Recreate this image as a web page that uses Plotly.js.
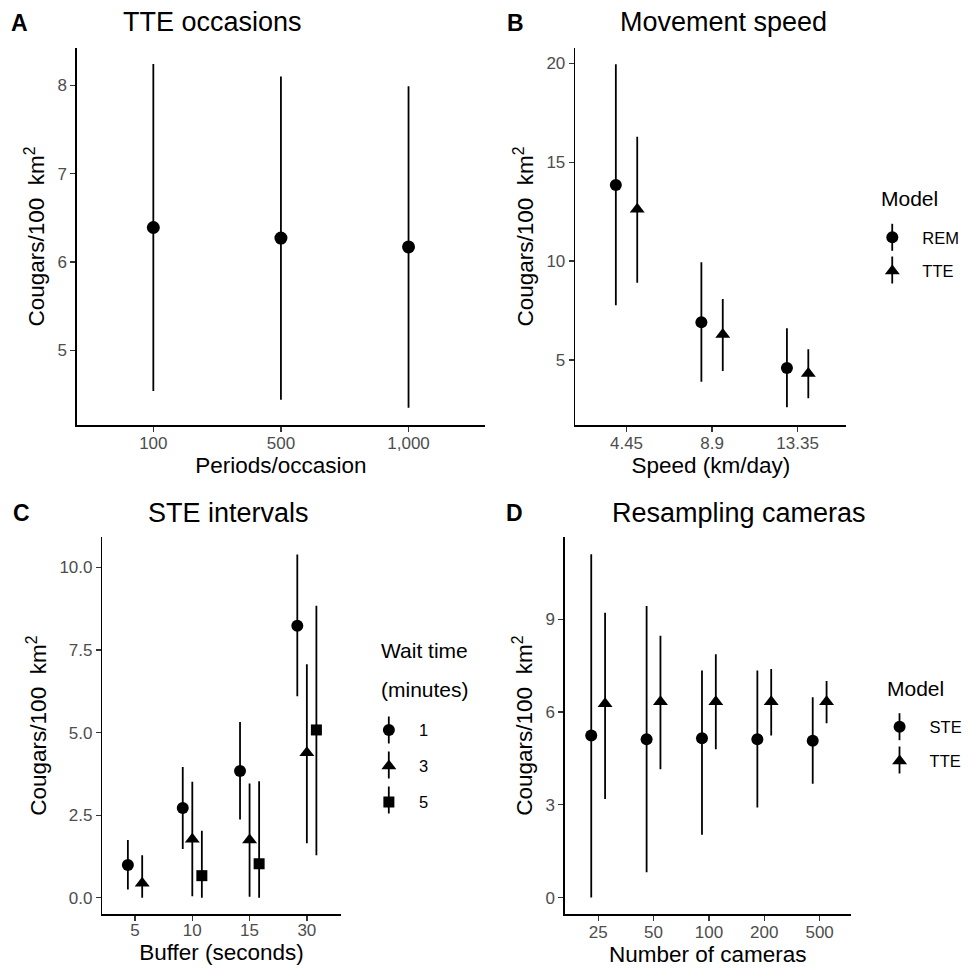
<!DOCTYPE html>
<html>
<head>
<meta charset="utf-8">
<script src="https://cdn.plot.ly/plotly-3.0.1.min.js"></script>
<style>html,body{margin:0;padding:0;background:#fff;}#chart{width:968px;height:972px;}</style>
</head>
<body>
<div id="chart"></div>
<script>
// ---------- DATA ----------
// Panel A: TTE occasions
const catsA = ['100', '500', '1,000'];
const estA = [6.39, 6.27, 6.17];
const loA  = [4.54, 4.44, 4.35];
const hiA  = [8.24, 8.10, 7.99];

// Panel B: Movement speed
const catsB = ['4.45', '8.9', '13.35'];
const remEstB = [13.85, 6.91, 4.60];
const remLoB  = [7.77, 3.90, 2.62];
const remHiB  = [19.95, 9.94, 6.61];
const tteEstB = [12.62, 6.29, 4.32];
const tteLoB  = [8.91, 4.45, 3.07];
const tteHiB  = [16.29, 8.09, 5.55];

// Panel C: STE intervals (buffer seconds x wait minutes)
const catsC = ['5', '10', '15', '30'];
const w1CatsC = ['5', '10', '15', '30'];
const w1EstC = [0.99, 2.72, 3.84, 8.23];
const w1LoC  = [0.25, 1.48, 2.37, 6.10];
const w1HiC  = [1.75, 3.96, 5.32, 10.39];
const w3CatsC = ['5', '10', '15', '30'];
const w3EstC = [0.44, 1.77, 1.75, 4.39];
const w3LoC  = [0.00, 0.05, 0.03, 1.65];
const w3HiC  = [1.29, 3.51, 3.46, 7.07];
const w5CatsC = ['10', '15', '30'];
const w5EstC = [0.67, 1.03, 5.08];
const w5LoC  = [0.00, 0.00, 1.29];
const w5HiC  = [2.03, 3.53, 8.84];

// Panel D: Resampling cameras
const catsD = ['25', '50', '100', '200', '500'];
const steEstD = [5.24, 5.12, 5.15, 5.12, 5.07];
const steLoD  = [0.00, 0.82, 2.03, 2.91, 3.68];
const steHiD  = [11.10, 9.43, 7.34, 7.34, 6.48];
const tteEstD = [6.27, 6.33, 6.33, 6.33, 6.33];
const tteLoD  = [3.19, 4.15, 4.80, 5.24, 5.64];
const tteHiD  = [9.21, 8.47, 7.87, 7.39, 7.00];

// ---------- HELPERS ----------
const FONT = 'Liberation Sans, Arial, Helvetica, sans-serif';
const W = 968, H = 972;
const fx = p => p / W;
const fy = p => (H - p) / H;

// ggplot-like position_dodge (width 0.5), computed per category
function dodge(series, cats, width) {
  return series.map(s => s.cats.map(c => {
    const present = series.filter(t => t.cats.indexOf(c) >= 0);
    const n = present.length, k = present.indexOf(s);
    return cats.indexOf(c) - width / 2 + width / (2 * n) + k * width / n;
  }));
}

function errTrace(x, est, lo, hi, opts) {
  return Object.assign({
    type: 'scatter', mode: 'markers', x: x, y: est,
    error_y: {
      type: 'data', symmetric: false,
      array: hi.map((h, i) => h - est[i]),
      arrayminus: lo.map((l, i) => est[i] - l),
      width: 0, thickness: 1.8, color: 'black'
    },
    cliponaxis: false,
    hoverinfo: 'x+y'
  }, opts);
}

const SYM = {
  circle: {symbol: 'circle', size: 12},
  triangle: {symbol: 'triangle-up', size: 13},
  square: {symbol: 'square', size: 11}
};

// ---------- TRACES ----------
const traces = [];
traces.push(errTrace(catsA.map((c, i) => i), estA, loA, hiA, {
  xaxis: 'x', yaxis: 'y', showlegend: false, name: 'TTE',
  marker: {symbol: 'circle', size: 13, color: 'black'}
}));

const seriesB = [
  {name: 'REM', cats: catsB, est: remEstB, lo: remLoB, hi: remHiB, shape: 'circle'},
  {name: 'TTE', cats: catsB, est: tteEstB, lo: tteLoB, hi: tteHiB, shape: 'triangle'}
];
const xB = dodge(seriesB, catsB, 0.5);
seriesB.forEach((s, j) => traces.push(errTrace(xB[j], s.est, s.lo, s.hi, {
  xaxis: 'x2', yaxis: 'y2', name: s.name, legend: 'legend', legendgroup: 'B' + j,
  marker: Object.assign({color: 'black'}, SYM[s.shape])
})));

const seriesC = [
  {name: '1', cats: w1CatsC, est: w1EstC, lo: w1LoC, hi: w1HiC, shape: 'circle'},
  {name: '3', cats: w3CatsC, est: w3EstC, lo: w3LoC, hi: w3HiC, shape: 'triangle'},
  {name: '5', cats: w5CatsC, est: w5EstC, lo: w5LoC, hi: w5HiC, shape: 'square'}
];
const xC = dodge(seriesC, catsC, 0.5);
seriesC.forEach((s, j) => traces.push(errTrace(xC[j], s.est, s.lo, s.hi, {
  xaxis: 'x3', yaxis: 'y3', name: s.name, legend: 'legend2', legendgroup: 'C' + j,
  marker: Object.assign({color: 'black'}, SYM[s.shape])
})));

const seriesD = [
  {name: 'STE', cats: catsD, est: steEstD, lo: steLoD, hi: steHiD, shape: 'circle'},
  {name: 'TTE', cats: catsD, est: tteEstD, lo: tteLoD, hi: tteHiD, shape: 'triangle'}
];
const xD = dodge(seriesD, catsD, 0.5);
seriesD.forEach((s, j) => traces.push(errTrace(xD[j], s.est, s.lo, s.hi, {
  xaxis: 'x4', yaxis: 'y4', name: s.name, legend: 'legend3', legendgroup: 'D' + j,
  marker: Object.assign({color: 'black'}, SYM[s.shape])
})));

// ---------- LAYOUT ----------
const YTITLE = 'Cougars/100\u00a0\u00a0km<sup>2</sup>';
const axBase = {
  showline: true, linecolor: 'black', linewidth: 1.5, mirror: false,
  ticks: 'outside', ticklen: 5, tickwidth: 1.3, tickcolor: '#333333',
  showgrid: false, zeroline: false, fixedrange: true,
  tickfont: {family: FONT, size: 17, color: '#4d4d4d'}
};
function xax(domain, range, cats, title, anchor, lblOff, stand) {
  return Object.assign({}, axBase, {
    domain: domain, range: range, anchor: anchor,
    tickmode: 'array', tickvals: cats.map((c, i) => i), ticktext: cats,
    ticklabelstandoff: lblOff,
    title: {text: title, font: {family: FONT, size: 22.5, color: 'black'}, standoff: stand}
  });
}
function yax(domain, range, tickvals, anchor, fmt) {
  return Object.assign({}, axBase, {
    domain: domain, range: range, anchor: anchor,
    tickmode: 'array', tickvals: tickvals, tickformat: fmt || '',
    title: {text: YTITLE, font: {family: FONT, size: 22.5, color: 'black'}, standoff: 6}
  });
}

const topRow = [fy(425), fy(48)];
const botRow = [fy(914), fy(537.3)];

const legBase = {
  bgcolor: 'rgba(0,0,0,0)', borderwidth: 0, xanchor: 'left', yanchor: 'top',
  font: {family: FONT, size: 16.5, color: 'black'},
  itemwidth: 50, traceorder: 'grouped', itemclick: false, itemdoubleclick: false
};

function ann(text, x, y, size, extra) {
  return Object.assign({
    text: text, x: fx(x), y: fy(y), xref: 'paper', yref: 'paper',
    xanchor: 'center', yanchor: 'middle', showarrow: false,
    font: {family: FONT, size: size, color: 'black'}
  }, extra || {});
}

const annotations = [
  ann('<b>A</b>', 20, 23, 23),
  ann('<b>B</b>', 517.3, 22.8, 23),
  ann('<b>C</b>', 21.7, 512.8, 23),
  ann('<b>D</b>', 516.5, 513.3, 23),
  ann('TTE occasions', 213, 22.5, 27),
  ann('Movement speed', 725.7, 22.5, 27),
  ann('STE intervals', 229.2, 512.5, 27),
  ann('Resampling cameras', 741.5, 512.5, 27),
  // legend titles
  ann('Model', 882, 198, 21, {xanchor: 'left'}),
  ann('Wait time', 380.5, 650.7, 21, {xanchor: 'left'}),
  ann('(minutes)', 380.5, 689, 21, {xanchor: 'left'}),
  ann('Model', 887.3, 688.3, 21, {xanchor: 'left'})
];

// vertical "error bar" strokes on the legend keys (legend glyph decoration)
const legendKeys = [
  {x: 895, ys: [237.3, 270]},
  {x: 390, ys: [730, 765, 800]},
  {x: 902.3, ys: [726.7, 760]}
];
const shapes = [];
legendKeys.forEach(k => k.ys.forEach(y => shapes.push({
  type: 'line', xref: 'paper', yref: 'paper',
  x0: fx(k.x), x1: fx(k.x), y0: fy(y - 13.5), y1: fy(y + 13.5),
  line: {color: 'black', width: 1.8}
})));

const layout = {
  width: W, height: H,
  margin: {l: 0, r: 0, t: 0, b: 0},
  paper_bgcolor: 'white', plot_bgcolor: 'white',
  font: {family: FONT, color: 'black'},
  showlegend: true,
  xaxis:  xax([fx(77), fx(486.6)], [-0.6, 2.6], catsA, 'Periods/occasion', 'y', -3, 0),
  yaxis:  yax(topRow, [4.154, 8.422], [5, 6, 7, 8], 'x'),
  xaxis2: xax([fx(577), fx(849)], [-0.6, 2.57], catsB, 'Speed (km/day)', 'y2', -3, 1),
  yaxis2: yax(topRow, [1.72, 20.77], [5, 10, 15, 20], 'x2'),
  xaxis3: xax([fx(102.7), fx(341.7)], [-0.57, 3.59], catsC, 'Buffer (seconds)', 'y3', -5, 5),
  yaxis3: yax(botRow, [-0.49, 10.91], [0, 2.5, 5, 7.5, 10], 'x3', '.1f'),
  xaxis4: xax([fx(566.7), fx(853.3)], [-0.6, 4.56], catsD, 'Number of cameras', 'y4', -3, 4),
  yaxis4: yax(botRow, [-0.53, 11.65], [0, 3, 6, 9], 'x4'),
  legend: Object.assign({}, legBase, {
    x: fx(865), y: fy(220.1), tracegroupgap: 9.2
  }),
  legend2: Object.assign({}, legBase, {
    x: fx(360), y: fy(712.8), tracegroupgap: 11.5
  }),
  legend3: Object.assign({}, legBase, {
    x: fx(872.3), y: fy(709.5), tracegroupgap: 9.8
  }),
  annotations: annotations,
  shapes: shapes
};

Plotly.newPlot('chart', traces, layout, {displayModeBar: false, staticPlot: true});
</script>
</body>
</html>
